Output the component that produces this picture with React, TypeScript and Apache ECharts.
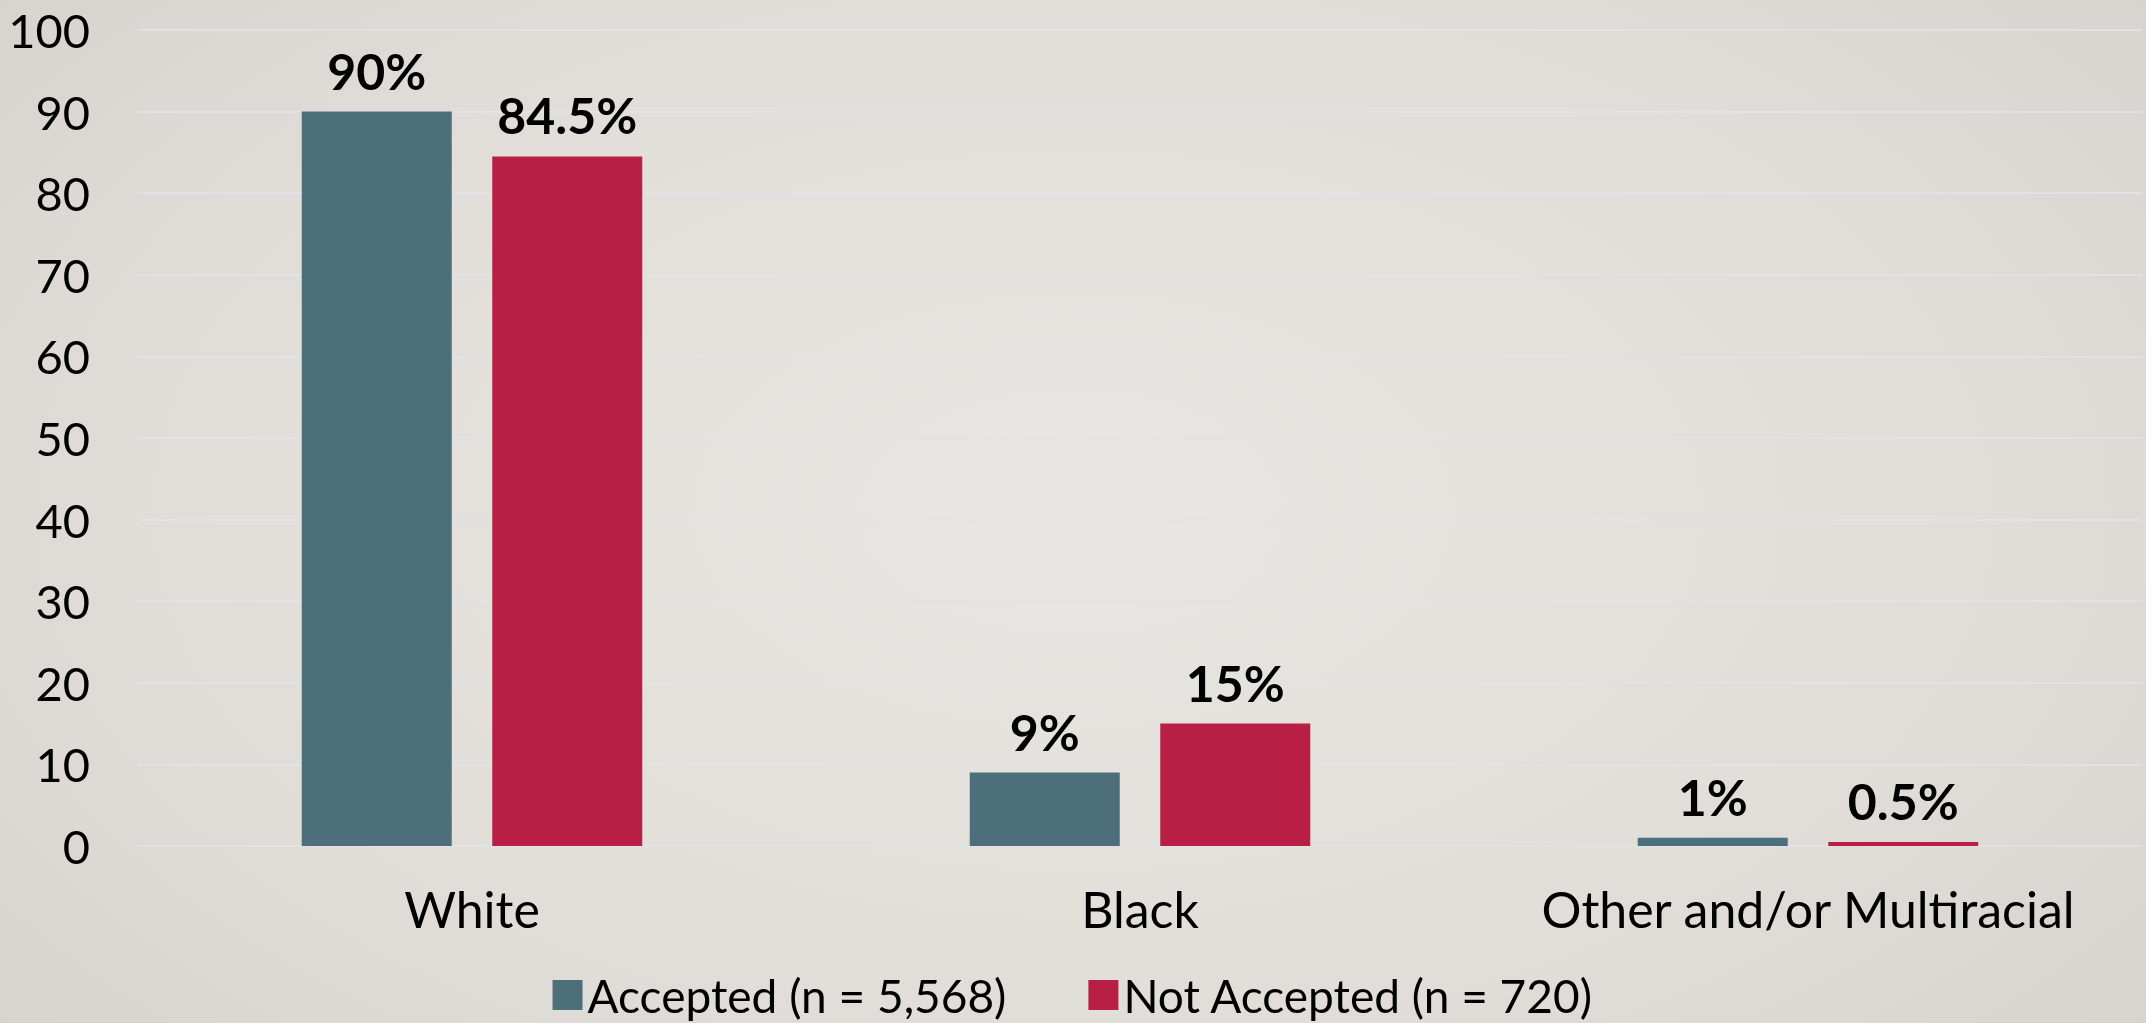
import React, { useEffect, useRef } from "react";
import * as echarts from "echarts";

const categories = ["White", "Black", "Other and/or Multiracial"];
const acceptedValues = [90, 9, 1];
const notAcceptedValues = [84.5, 15, 0.5];
const seriesNames = ["Accepted (n = 5,568)", "Not Accepted (n = 720)"];
const yTicks = { min: 0, max: 100, interval: 10 };

const FONT = "Lato, 'Noto Sans', sans-serif";

export default function App() {
  const ref = useRef<HTMLDivElement>(null);
  useEffect(() => {
    document.body.style.margin = "0";
    const chart = echarts.init(ref.current!, null, { renderer: "svg" });
    const labelStyle = {
      show: true,
      position: "top" as const,
      distance: 16,
      fontFamily: FONT,
      fontSize: 50,
      fontWeight: "bold" as const,
      color: "#000",
      formatter: (p: any) => `${p.value}%`,
    };
    chart.setOption({
      animation: false,
      backgroundColor: "transparent",
      textStyle: { fontFamily: FONT },
      grid: { left: 138, right: 4, top: 30, bottom: 177, containLabel: false },
      legend: {
        bottom: 0,
        left: "center",
        itemWidth: 30,
        itemHeight: 30,
        itemGap: 82,
        icon: "rect",
        textStyle: { fontFamily: FONT, fontSize: 46, color: "#000" },
        data: seriesNames,
      },
      xAxis: {
        type: "category",
        data: categories,
        axisLine: { show: false },
        axisTick: { show: false },
        axisLabel: {
          fontFamily: FONT,
          fontSize: 50,
          color: "#000",
          margin: 38,
          interval: 0,
          hideOverlap: false,
        },
      },
      yAxis: {
        type: "value",
        min: yTicks.min,
        max: yTicks.max,
        interval: yTicks.interval,
        axisLine: { show: false },
        axisTick: { show: false },
        axisLabel: { fontFamily: FONT, fontSize: 47, color: "#000", margin: 48 },
        splitLine: { lineStyle: { color: "rgba(226,227,231,0.95)", width: 2 } },
      },
      series: [
        {
          name: seriesNames[0],
          type: "bar",
          data: acceptedValues,
          barWidth: 150,
          barGap: "27%",
          itemStyle: { color: "#4d6e7b" },
          label: labelStyle,
        },
        {
          name: seriesNames[1],
          type: "bar",
          data: notAcceptedValues,
          barWidth: 150,
          barGap: "27%",
          itemStyle: { color: "#b91f44" },
          label: labelStyle,
        },
      ],
    });
    return () => chart.dispose();
  }, []);
  return (
    <div
      style={{
        position: "fixed",
        left: 0,
        top: 0,
        width: 2146,
        height: 1023,
        background:
          "radial-gradient(ellipse 75% 90% at 50% 50%, #e8e6e2 0%, #e1ded9 55%, #d3cfca 100%)",
      }}
    >
      <div ref={ref} style={{ width: 2146, height: 1023 }} />
    </div>
  );
}
